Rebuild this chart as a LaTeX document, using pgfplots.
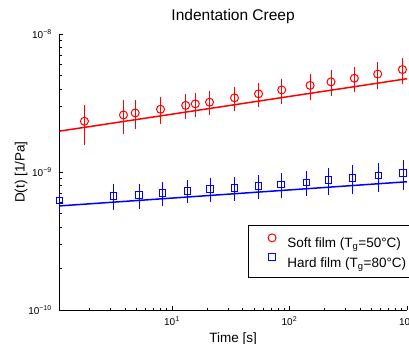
\documentclass[border=0pt]{standalone}
\usepackage{fontspec}
\setmainfont{Liberation Sans}
\usepackage{pgfplots}
\pgfplotsset{compat=1.18}
\usepackage{pgfplotstable}

\pgfplotstableread{
x y e
1.80 2.34e-9 0.756e-9
3.87 2.60e-9 0.718e-9
4.87 2.69e-9 0.624e-9
8.0 2.86e-9 0.641e-9
13.1 3.05e-9 0.611e-9
15.8 3.13e-9 0.632e-9
20.9 3.22e-9 0.637e-9
34.1 3.46e-9 0.668e-9
54.6 3.70e-9 0.746e-9
86 3.95e-9 0.805e-9
150 4.26e-9 0.90e-9
226 4.52e-9 0.97e-9
357 4.80e-9 1.007e-9
564 5.15e-9 1.128e-9
916 5.55e-9 1.218e-9
}\softdata

\pgfplotstableread{
x y e
1.107 6.21e-10 1.28e-10
3.18 6.71e-10 1.43e-10
5.27 6.86e-10 1.41e-10
8.32 7.06e-10 1.40e-10
13.6 7.32e-10 1.39e-10
21.2 7.53e-10 1.47e-10
34.1 7.68e-10 1.52e-10
54.6 7.90e-10 1.56e-10
85 8.15e-10 1.63e-10
140 8.43e-10 1.74e-10
215 8.75e-10 1.89e-10
344 9.09e-10 2.09e-10
575 9.46e-10 2.25e-10
931 9.85e-10 2.37e-10
}\harddata

\begin{document}
\begin{tikzpicture}
\begin{axis}[
  xmode=log, ymode=log,
  scale only axis, width=347.6bp, height=275.7bp,
  xmin=1.1, xmax=1000, ymin=1e-10, ymax=1e-8,
  axis lines*=left,
  axis line style={-, line width=0.8bp, black},
  tick align=inside,
  major tick length=4bp, minor tick length=2.5bp,
  tick style={black, line width=0.8bp},
  xtick={10,100,1000},
  xticklabels={10\textsuperscript{1},10\textsuperscript{2},10\textsuperscript{3}},
  minor xtick={2,3,4,5,6,7,8,9,20,30,40,50,60,70,80,90,200,300,400,500,600,700,800,900},
  ytick={1e-10,1e-9,1e-8},
  yticklabels={10\textsuperscript{−10},10\textsuperscript{−9},10\textsuperscript{−8}},
  minor ytick={2e-10,3e-10,4e-10,5e-10,6e-10,7e-10,8e-10,9e-10,2e-9,3e-9,4e-9,5e-9,6e-9,7e-9,8e-9,9e-9},
  ticklabel style={font=\fontsize{10bp}{12bp}\selectfont},
  yticklabel style={xshift=-4bp},
  xticklabel style={yshift=-3.5bp},
  title={Indentation Creep},
  title style={at={(axis description cs:0.5,1.0276)}, anchor=base, font=\fontsize{15.5bp}{18bp}\selectfont},
  xlabel={Time [s]},
  xlabel style={at={(axis description cs:0.5,-0.1161)}, anchor=base, font=\fontsize{13.5bp}{16bp}\selectfont},
  ylabel={D(t) [1/Pa]},
  ylabel style={at={(axis description cs:-0.0995,0.5)}, anchor=base, font=\fontsize{13.5bp}{16bp}\selectfont},
  legend style={at={(axis description cs:0.5437,0.3083)}, anchor=north west, draw=black, line width=0.8bp,
    inner sep=6.75bp, column sep=8bp, font=\fontsize{13.5bp}{16bp}\selectfont,
    nodes={inner sep=0pt, text height=15.55bp, text depth=3.85bp}},
  legend cell align=left,
  legend image code/.code={\path[draw=none,fill=none] (0bp,0bp) rectangle (24bp,0.1bp); \draw[#1] plot coordinates {(16.65bp,4bp)};},
]
\addplot[only marks, mark=o, mark size=4bp, red, line width=1bp,
  error bars/.cd, y dir=both, y explicit, error mark=none,
  error bar style={line width=1bp, red}]
  table[x=x, y=y, y error=e] {\softdata};
\addlegendentry{Soft film (T\textsubscript{g}=50°C)}
\addplot[only marks, mark=square, mark size=3.3bp, blue, line width=1bp,
  error bars/.cd, y dir=both, y explicit, error mark=none,
  error bar style={line width=1bp, blue}]
  table[x=x, y=y, y error=e] {\harddata};
\addlegendentry{Hard film (T\textsubscript{g}=80°C)}
\addplot[red, line width=1.5bp, forget plot] coordinates {(1.1,1.984e-9) (1000,4.762e-9)};
\addplot[blue, line width=1.5bp, forget plot] coordinates {(1.1,5.69e-10) (1000,8.52e-10)};
\end{axis}
\pgfresetboundingbox
\path[use as bounding box] (-59.3bp,-34bp) rectangle (349.7bp,310bp);
\end{tikzpicture}
\end{document}
